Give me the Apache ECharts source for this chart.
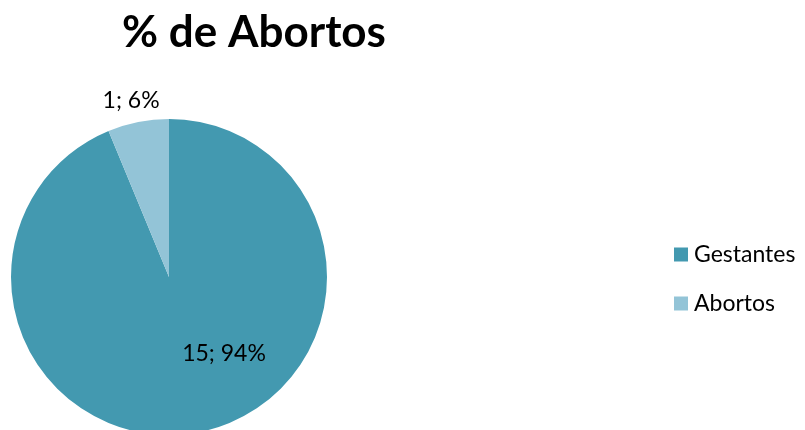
<!DOCTYPE html>
<html><head><meta charset="utf-8">
<script src="https://cdn.jsdelivr.net/npm/echarts@6/dist/echarts.min.js"></script>
<style>html,body{margin:0;padding:0;background:#fff}#c{width:805px;height:430px}</style>
</head><body><div id="c"></div>
<script>
const categories = ['Gestantes', 'Abortos'];
const values = [15, 1];
const colors = ['#4399b0', '#93c4d7'];

const chart = echarts.init(document.getElementById('c'));
const total = values.reduce((a, b) => a + b, 0);
chart.setOption({
  animation: false,
  title: {
    text: '% de Abortos', left: 249, top: 6, textAlign: 'center',
    textStyle: { fontFamily: 'Lato', fontWeight: 'bold', fontSize: 44, color: '#000' }
  },
  legend: {
    orient: 'vertical', left: 674, top: 243, padding: 0, itemWidth: 14, itemHeight: 14, itemGap: 26,
    icon: 'rect',
    textStyle: { fontFamily: 'Lato', fontSize: 23, color: '#000', padding: [0, 0, 0, 1] },
    data: categories
  },
  series: [{
    type: 'pie', center: [169, 277], radius: 158, startAngle: 90, clockwise: true,
    color: colors,
    label: {
      fontFamily: 'Lato', fontSize: 23, color: '#000',
      formatter: p => p.value + '; ' + Math.round(p.value / total * 100) + '%'
    },
    labelLine: { show: false },
    labelLayout: function (p) {
      if (p.dataIndex === 0) return { dx: 39, dy: -4 };
      return { dx: 23, dy: -14 };
    },
    data: categories.map((c, i) => ({
      name: c, value: values[i],
      label: i === 0 ? { position: 'inside' } : { position: 'outside', distanceToLabelLine: 0 },
      labelLine: i === 0 ? {} : { length: 8, length2: 0 }
    }))
  }]
});
</script></body></html>
